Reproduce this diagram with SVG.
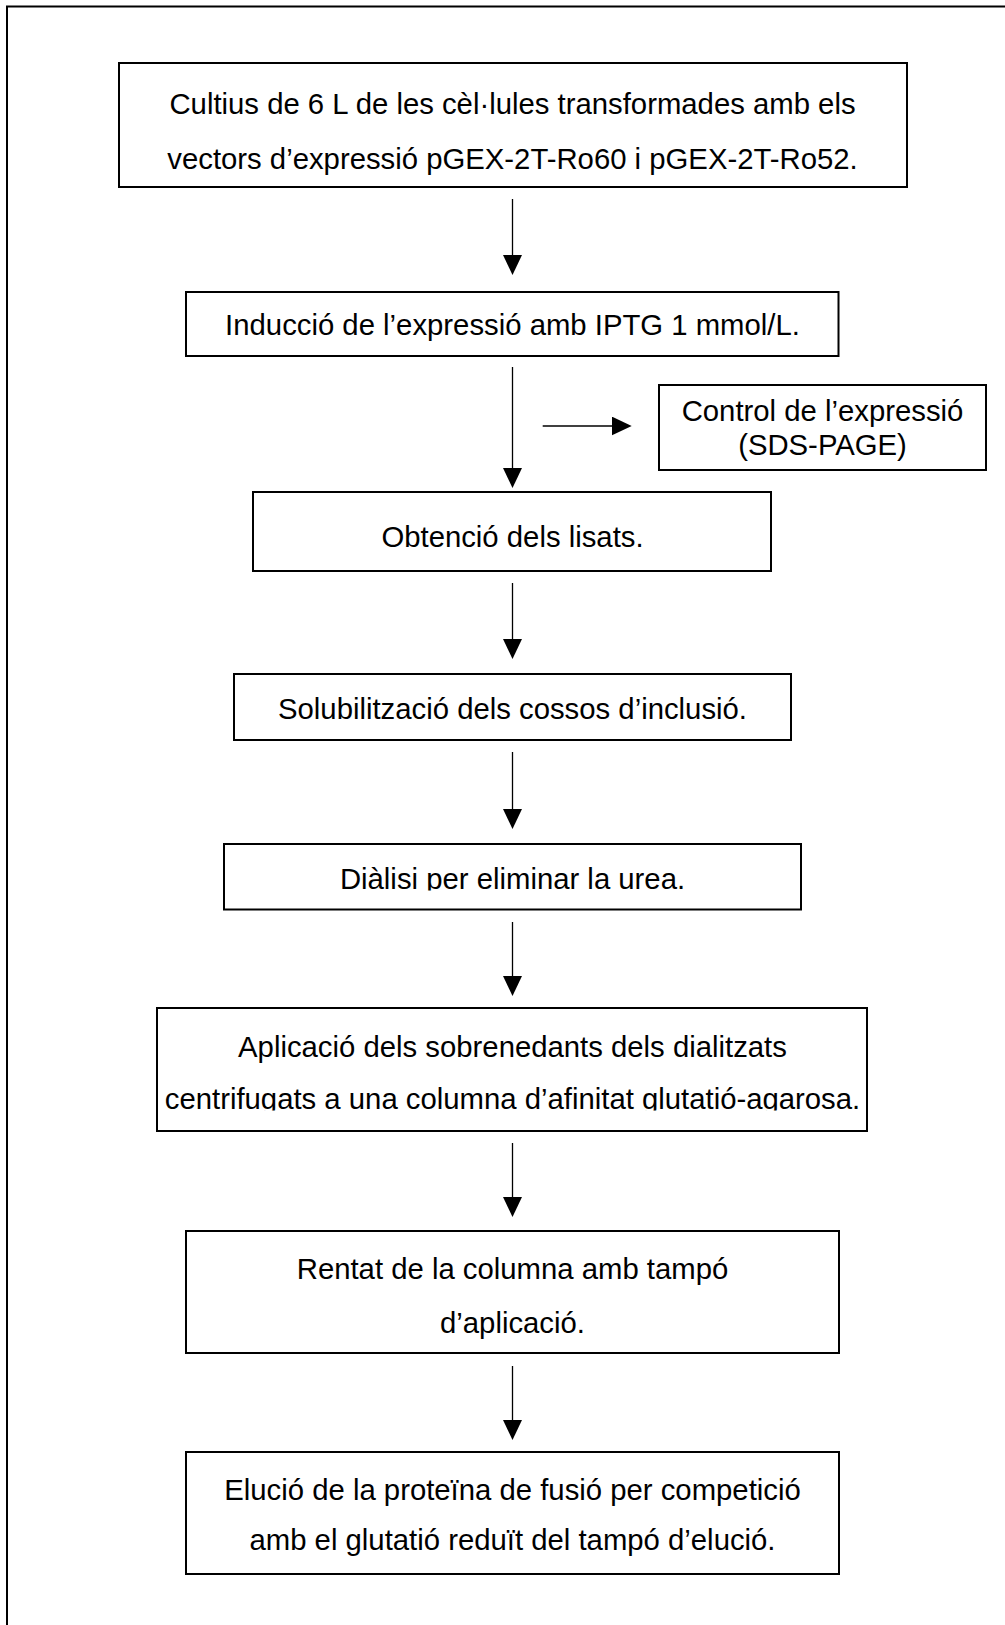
<svg xmlns="http://www.w3.org/2000/svg" width="1005" height="1625" viewBox="0 0 1005 1625">
<style>
.box{fill:#fff;stroke:#000;stroke-width:2}
.t{font-family:"Liberation Sans",Arial,sans-serif;font-size:29.3px;text-anchor:middle;fill:#000}
.c{stroke:#000;stroke-width:1.3;fill:none}
.frame{stroke:#000;stroke-width:2;fill:none}
</style>
<defs>
<marker id="ah" viewBox="0 0 20 19" refX="1" refY="9.5" markerWidth="20" markerHeight="19" markerUnits="userSpaceOnUse" orient="auto">
<path d="M0,0 L20,9.5 L0,19 z" fill="#000"/>
</marker>
<clipPath id="clip5"><rect x="224" y="844" width="577" height="46.5"/></clipPath>
<clipPath id="clip6"><rect x="157" y="1008" width="710" height="102.5"/></clipPath>
</defs>
<rect x="0" y="0" width="1005" height="1625" fill="#fff"/>
<path class="frame" d="M7,1700 L7,6.5 L1100,6.5"/>

<g id="connectors">
<line class="c" x1="512.5" y1="199" x2="512.5" y2="256" marker-end="url(#ah)"/>
<line class="c" x1="512.5" y1="367" x2="512.5" y2="469" marker-end="url(#ah)"/>
<line class="c" x1="542.7" y1="426" x2="612.7" y2="426" marker-end="url(#ah)"/>
<line class="c" x1="512.5" y1="583" x2="512.5" y2="640" marker-end="url(#ah)"/>
<line class="c" x1="512.5" y1="752" x2="512.5" y2="810" marker-end="url(#ah)"/>
<line class="c" x1="512.5" y1="922" x2="512.5" y2="977" marker-end="url(#ah)"/>
<line class="c" x1="512.5" y1="1143" x2="512.5" y2="1198" marker-end="url(#ah)"/>
<line class="c" x1="512.5" y1="1366" x2="512.5" y2="1421" marker-end="url(#ah)"/>
</g>

<g id="n1">
<rect class="box" x="119" y="63" width="788" height="124"/>
<text class="t" x="512.5" y="114">Cultius de 6 L de les cèl·lules transformades amb els</text>
<text class="t" x="512.5" y="169">vectors d’expressió pGEX-2T-Ro60 i pGEX-2T-Ro52.</text>
</g>
<g id="n2">
<rect class="box" x="186" y="292" width="652.5" height="64"/>
<text class="t" x="512.5" y="335">Inducció de l’expressió amb IPTG 1 mmol/L.</text>
</g>
<g id="n_control">
<rect class="box" x="659" y="385" width="327" height="85"/>
<text class="t" x="822.5" y="421">Control de l’expressió</text>
<text class="t" x="822.5" y="455">(SDS-PAGE)</text>
</g>
<g id="n3">
<rect class="box" x="253" y="492" width="518" height="79"/>
<text class="t" x="512.5" y="547">Obtenció dels lisats.</text>
</g>
<g id="n4">
<rect class="box" x="234" y="674" width="557" height="66"/>
<text class="t" x="512.5" y="719">Solubilització dels cossos d’inclusió.</text>
</g>
<g id="n5">
<rect class="box" x="224" y="844" width="577" height="65.5"/>
<text class="t" x="512.5" y="888.5" clip-path="url(#clip5)">Diàlisi per eliminar la urea.</text>
</g>
<g id="n6">
<rect class="box" x="157" y="1008" width="710" height="123"/>
<text class="t" x="512.5" y="1057">Aplicació dels sobrenedants dels dialitzats</text>
<text class="t" x="512.5" y="1109" clip-path="url(#clip6)">centrifugats a una columna d’afinitat glutatió-agarosa.</text>
</g>
<g id="n7">
<rect class="box" x="186" y="1231" width="653" height="122"/>
<text class="t" x="512.5" y="1279">Rentat de la columna amb tampó</text>
<text class="t" x="512.5" y="1333">d’aplicació.</text>
</g>
<g id="n8">
<rect class="box" x="186" y="1452" width="653" height="122"/>
<text class="t" x="512.5" y="1500">Elució de la proteïna de fusió per competició</text>
<text class="t" x="512.5" y="1550">amb el glutatió reduït del tampó d’elució.</text>
</g>
</svg>
